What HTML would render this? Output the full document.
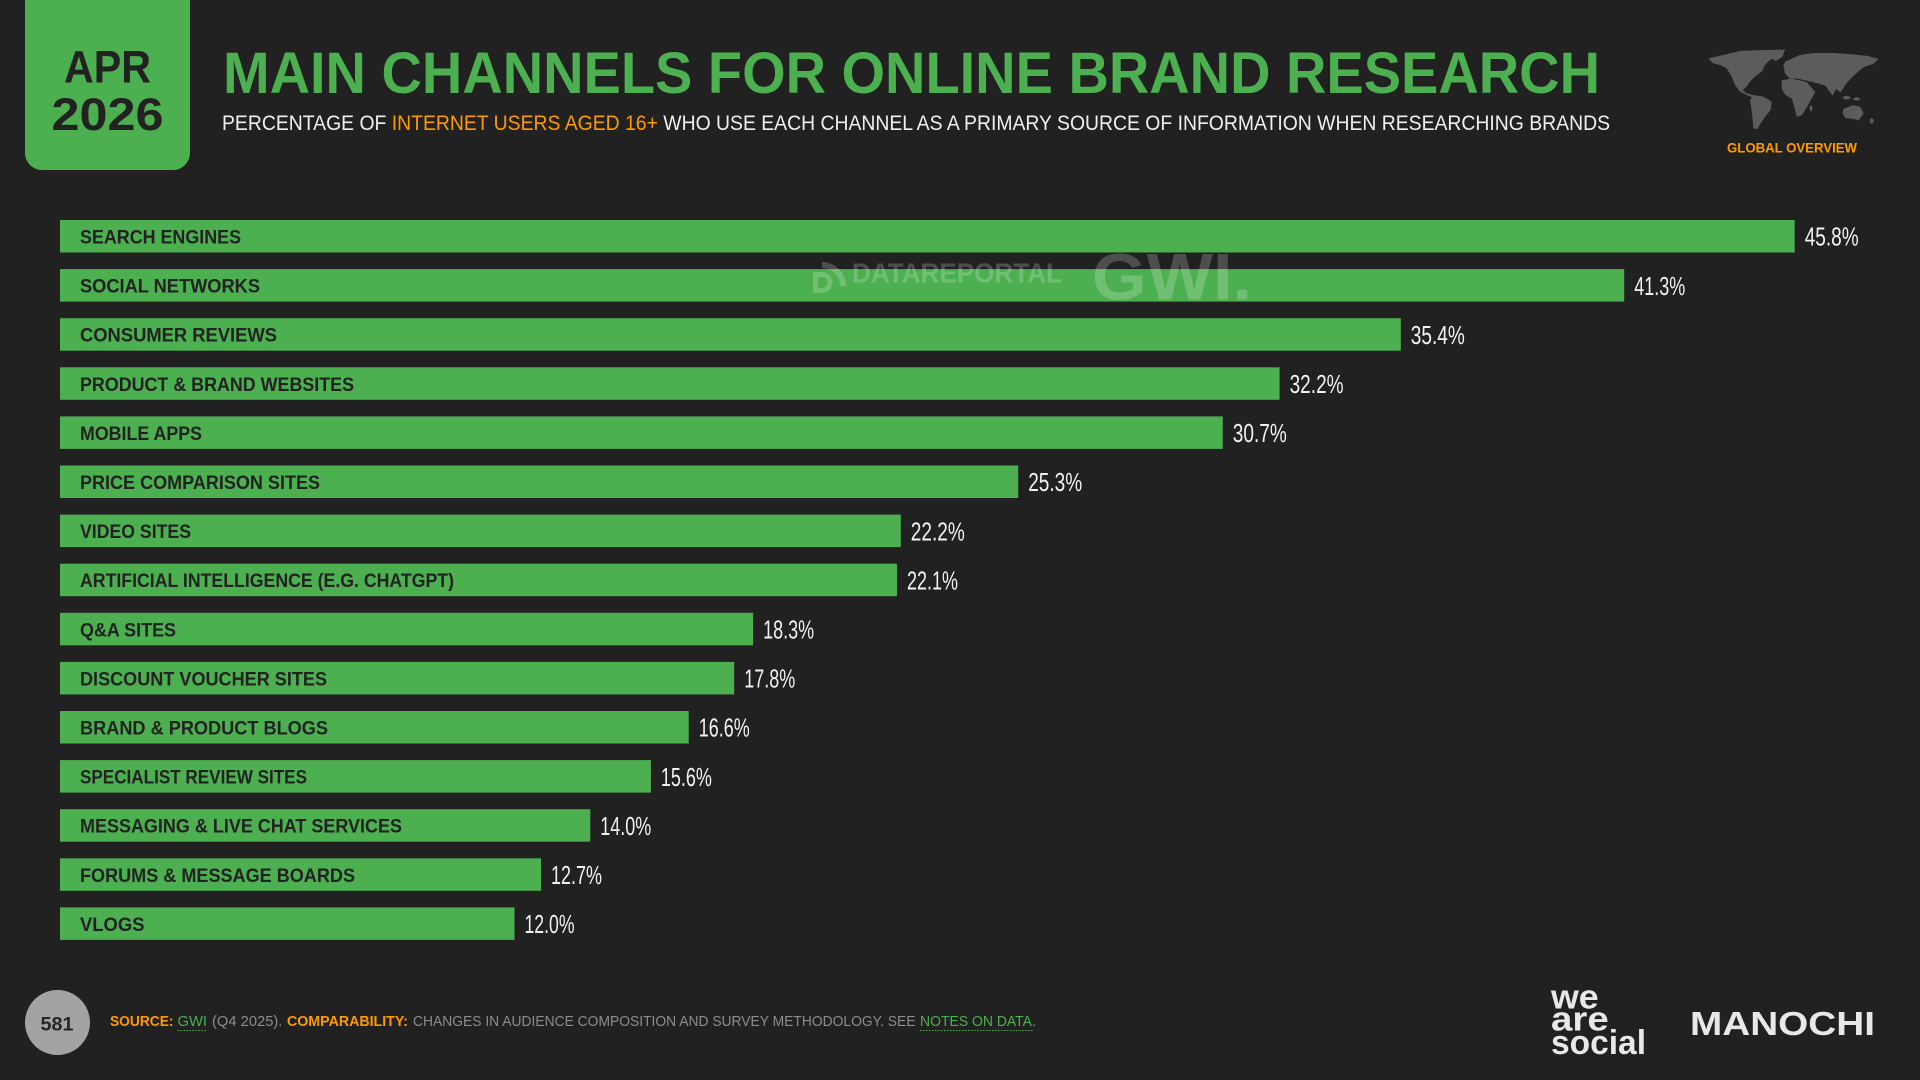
<!DOCTYPE html>
<html>
<head>
<meta charset="utf-8">
<style>
  html, body { margin:0; padding:0; background:#212121; }
  body { width:1920px; height:1080px; overflow:hidden; }
  svg { display:block; }
  text { font-family: "Liberation Sans", "DejaVu Sans", sans-serif; }
</style>
</head>
<body>
<svg width="1920" height="1080" viewBox="0 0 1920 1080" xmlns="http://www.w3.org/2000/svg">
  <rect x="0" y="0" width="1920" height="1080" fill="#212121"/>

  <!-- Date badge -->
  <rect x="25" y="-20" width="165" height="190" rx="17" ry="17" fill="#4caf50"/>
  <text x="107.5" y="82.7" text-anchor="middle" font-size="45" font-weight="700" fill="#222222" textLength="87" lengthAdjust="spacingAndGlyphs">APR</text>
  <text x="107.5" y="130" text-anchor="middle" font-size="45" font-weight="700" fill="#222222" textLength="112" lengthAdjust="spacingAndGlyphs">2026</text>

  <!-- Title -->
  <text x="223" y="93" font-size="58.5" font-weight="700" fill="#4caf50" textLength="1377" lengthAdjust="spacingAndGlyphs">MAIN CHANNELS FOR ONLINE BRAND RESEARCH</text>
  <text x="222" y="130" font-size="21.5" fill="#f0f0f0" textLength="1388" lengthAdjust="spacingAndGlyphs">PERCENTAGE OF <tspan fill="#ff9a00">INTERNET USERS AGED 16+</tspan> WHO USE EACH CHANNEL AS A PRIMARY SOURCE OF INFORMATION WHEN RESEARCHING BRANDS</text>

  <!-- World map -->
  <g transform="translate(1700,45) scale(0.3333)" fill="#5c5c5c">
    <path d="M25,40 L70,30 L120,18 L180,15 L240,18 L235,35 L210,45 L195,60 L185,80 L165,95 L150,110 L140,125 L128,135 L140,145 L160,150 L175,165 L165,160 L140,150 L120,140 L105,120 L95,95 L80,70 L60,60 L40,55 Z"/>
    <path d="M190,15 L255,14 L248,35 L228,48 L205,36 Z"/>
    <path d="M160,150 L190,155 L215,170 L212,195 L196,215 L182,235 L172,252 L160,250 L158,222 L154,190 L150,165 Z"/>
    <path d="M250,58 L272,42 L300,30 L340,24 L400,24 L460,28 L505,33 L535,42 L522,56 L492,66 L472,82 L457,96 L442,112 L432,126 L422,142 L408,132 L398,152 L386,136 L376,122 L356,116 L336,111 L316,106 L292,101 L270,101 L255,86 Z"/>
    <path d="M245,106 L270,101 L300,106 L320,111 L336,130 L346,141 L332,166 L321,186 L306,210 L291,216 L284,190 L276,162 L256,150 L245,130 Z"/>
    <path d="M430,192 L460,180 L481,186 L491,206 L476,226 L456,221 L436,219 L428,206 Z"/>
    <ellipse cx="440" cy="158" rx="12" ry="5"/>
    <ellipse cx="470" cy="162" rx="10" ry="5"/>
    <ellipse cx="333" cy="190" rx="4" ry="9"/>
    <ellipse cx="515" cy="228" rx="6" ry="8"/>
    <ellipse cx="262" cy="55" rx="8" ry="8"/>
  </g>
  <text x="1792" y="152.7" text-anchor="middle" font-size="13.7" font-weight="700" fill="#ff9a00" textLength="130" lengthAdjust="spacingAndGlyphs">GLOBAL OVERVIEW</text>

  <!-- Bars -->
  <g fill="#4caf50">
    <rect x="60" y="220" width="1734.7" height="32.5"/>
    <rect x="60" y="269.1" width="1564.2" height="32.5"/>
    <rect x="60" y="318.2" width="1340.8" height="32.5"/>
    <rect x="60" y="367.3" width="1219.6" height="32.5"/>
    <rect x="60" y="416.4" width="1162.8" height="32.5"/>
    <rect x="60" y="465.5" width="958.2" height="32.5"/>
    <rect x="60" y="514.6" width="840.8" height="32.5"/>
    <rect x="60" y="563.7" width="837.0" height="32.5"/>
    <rect x="60" y="612.8" width="693.1" height="32.5"/>
    <rect x="60" y="661.9" width="674.2" height="32.5"/>
    <rect x="60" y="711" width="628.7" height="32.5"/>
    <rect x="60" y="760.1" width="590.9" height="32.5"/>
    <rect x="60" y="809.2" width="530.3" height="32.5"/>
    <rect x="60" y="858.3" width="481.0" height="32.5"/>
    <rect x="60" y="907.4" width="454.5" height="32.5"/>
  </g>

  <!-- Bar labels -->
  <g font-size="19.5" font-weight="700" fill="#222222">
    <text x="80" y="243.5" textLength="161" lengthAdjust="spacingAndGlyphs">SEARCH ENGINES</text>
    <text x="80" y="292.6" textLength="180" lengthAdjust="spacingAndGlyphs">SOCIAL NETWORKS</text>
    <text x="80" y="341.7" textLength="197" lengthAdjust="spacingAndGlyphs">CONSUMER REVIEWS</text>
    <text x="80" y="390.8" textLength="274" lengthAdjust="spacingAndGlyphs">PRODUCT &amp; BRAND WEBSITES</text>
    <text x="80" y="439.9" textLength="122" lengthAdjust="spacingAndGlyphs">MOBILE APPS</text>
    <text x="80" y="489" textLength="240" lengthAdjust="spacingAndGlyphs">PRICE COMPARISON SITES</text>
    <text x="80" y="538.1" textLength="111" lengthAdjust="spacingAndGlyphs">VIDEO SITES</text>
    <text x="80" y="587.2" textLength="374" lengthAdjust="spacingAndGlyphs">ARTIFICIAL INTELLIGENCE (E.G. CHATGPT)</text>
    <text x="80" y="636.3" textLength="96" lengthAdjust="spacingAndGlyphs">Q&amp;A SITES</text>
    <text x="80" y="685.4" textLength="247" lengthAdjust="spacingAndGlyphs">DISCOUNT VOUCHER SITES</text>
    <text x="80" y="734.5" textLength="248" lengthAdjust="spacingAndGlyphs">BRAND &amp; PRODUCT BLOGS</text>
    <text x="80" y="783.6" textLength="227" lengthAdjust="spacingAndGlyphs">SPECIALIST REVIEW SITES</text>
    <text x="80" y="832.7" textLength="322" lengthAdjust="spacingAndGlyphs">MESSAGING &amp; LIVE CHAT SERVICES</text>
    <text x="80" y="881.8" textLength="275" lengthAdjust="spacingAndGlyphs">FORUMS &amp; MESSAGE BOARDS</text>
    <text x="80" y="930.9" textLength="64.5" lengthAdjust="spacingAndGlyphs">VLOGS</text>
  </g>

  <!-- Values -->
  <g font-size="26" fill="#f2f2f2">
    <text x="1804.7" y="245.7" textLength="54" lengthAdjust="spacingAndGlyphs">45.8%</text>
    <text x="1634.2" y="294.8" textLength="51" lengthAdjust="spacingAndGlyphs">41.3%</text>
    <text x="1410.8" y="343.9" textLength="54" lengthAdjust="spacingAndGlyphs">35.4%</text>
    <text x="1289.6" y="393" textLength="54" lengthAdjust="spacingAndGlyphs">32.2%</text>
    <text x="1232.8" y="442.1" textLength="54" lengthAdjust="spacingAndGlyphs">30.7%</text>
    <text x="1028.2" y="491.2" textLength="54" lengthAdjust="spacingAndGlyphs">25.3%</text>
    <text x="910.8" y="540.3" textLength="54" lengthAdjust="spacingAndGlyphs">22.2%</text>
    <text x="907" y="589.4" textLength="51" lengthAdjust="spacingAndGlyphs">22.1%</text>
    <text x="763.1" y="638.5" textLength="51" lengthAdjust="spacingAndGlyphs">18.3%</text>
    <text x="744.2" y="687.6" textLength="51" lengthAdjust="spacingAndGlyphs">17.8%</text>
    <text x="698.7" y="736.7" textLength="51" lengthAdjust="spacingAndGlyphs">16.6%</text>
    <text x="660.9" y="785.8" textLength="51" lengthAdjust="spacingAndGlyphs">15.6%</text>
    <text x="600.3" y="834.9" textLength="51" lengthAdjust="spacingAndGlyphs">14.0%</text>
    <text x="551" y="884" textLength="51" lengthAdjust="spacingAndGlyphs">12.7%</text>
    <text x="524.5" y="933.1" textLength="50" lengthAdjust="spacingAndGlyphs">12.0%</text>
  </g>

  <!-- Watermark -->
  <g opacity="0.2" fill="#ffffff" stroke="none">
    <path d="M813,272 L822,272 A10.5,10.5 0 0 1 822,293 L813,293 Z M818,277 L818,288 L822,288 A5.5,5.5 0 0 0 822,277 Z" fill-rule="evenodd"/>
    <path d="M822,262 A24,24 0 0 1 846,286 L840,286 A18,18 0 0 0 822,268 Z"/>
    <path d="M822,253 A33,33 0 0 1 855,286 L850,286 A28,28 0 0 0 822,258 Z" opacity="0"/>
    <text x="852" y="282.7" font-size="27.4" font-weight="700" textLength="210" lengthAdjust="spacingAndGlyphs">DATAREPORTAL</text>
    <text x="1092" y="299.3" font-size="66" font-weight="700" textLength="160" lengthAdjust="spacingAndGlyphs">GWI.</text>
  </g>

  <!-- Footer -->
  <circle cx="57.5" cy="1022.5" r="32.5" fill="#a3a3a3"/>
  <text x="57" y="1030.7" text-anchor="middle" font-size="19" font-weight="700" fill="#262626" textLength="33" lengthAdjust="spacingAndGlyphs">581</text>

  <g font-size="15.1">
    <text x="110" y="1026" font-weight="700" fill="#ff9a00" textLength="63.5" lengthAdjust="spacingAndGlyphs">SOURCE:</text>
    <text x="177.5" y="1026" fill="#4caf50" textLength="29.5" lengthAdjust="spacingAndGlyphs">GWI</text>
    <text x="212" y="1026" fill="#8c8c8c" textLength="70.4" lengthAdjust="spacingAndGlyphs">(Q4 2025).</text>
    <text x="287" y="1026" font-weight="700" fill="#ff9a00" textLength="121" lengthAdjust="spacingAndGlyphs">COMPARABILITY:</text>
    <text x="413" y="1026" fill="#8c8c8c" textLength="502.5" lengthAdjust="spacingAndGlyphs">CHANGES IN AUDIENCE COMPOSITION AND SURVEY METHODOLOGY. SEE</text>
    <text x="920" y="1026" fill="#4caf50" textLength="112" lengthAdjust="spacingAndGlyphs">NOTES ON DATA</text>
    <text x="1032" y="1026" fill="#8c8c8c" textLength="4" lengthAdjust="spacingAndGlyphs">.</text>
  </g>
  <line x1="177.5" y1="1030.5" x2="207" y2="1030.5" stroke="#4caf50" stroke-width="1" stroke-dasharray="1.5,1.5"/>
  <line x1="920" y1="1030.5" x2="1034" y2="1030.5" stroke="#4caf50" stroke-width="1" stroke-dasharray="1.5,1.5"/>

  <!-- we are social -->
  <g font-size="34" font-weight="700" fill="#e8e8e8">
    <text x="1551" y="1008.3" textLength="47.7" lengthAdjust="spacingAndGlyphs">we</text>
    <text x="1551" y="1030.5" textLength="57.7" lengthAdjust="spacingAndGlyphs">are</text>
    <text x="1551" y="1054" textLength="95" lengthAdjust="spacingAndGlyphs">social</text>
  </g>

  <!-- MANOCHI -->
  <text x="1690" y="1035" font-size="33.3" font-weight="700" fill="#e8e8e8" textLength="185" lengthAdjust="spacingAndGlyphs">MANOCHI</text>
</svg>
</body>
</html>
